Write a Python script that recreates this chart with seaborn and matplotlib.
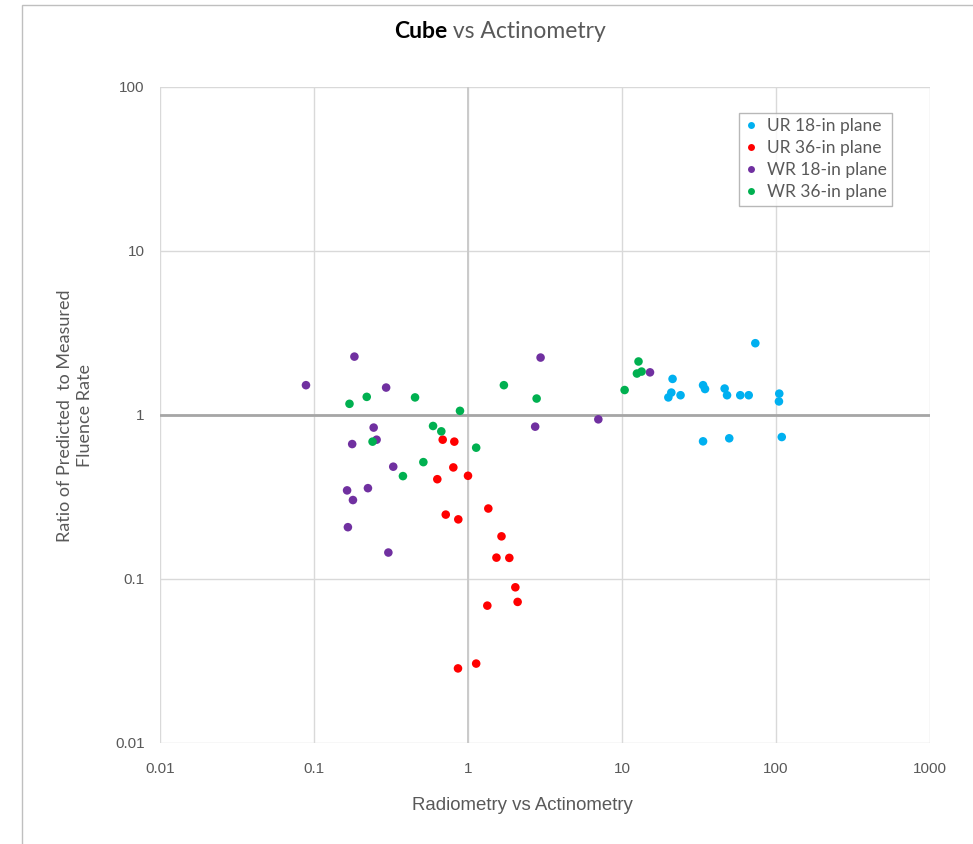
import numpy as np
import pandas as pd
import matplotlib
matplotlib.use("Agg")
import matplotlib.pyplot as plt
import seaborn as sns
from matplotlib.patches import Rectangle
from matplotlib.lines import Line2D

# ---- data ----
series_names = ["UR 18-in plane", "UR 36-in plane", "WR 18-in plane", "WR 36-in plane"]
colors = ["#00B0F0", "#FF0000", "#7030A0", "#00B050"]

ur18_x = [21.3, 20.9, 20.0, 24.0, 33.6, 34.6, 46.4, 48.1, 58.6, 66.5, 73.4, 105, 104.5, 109, 33.6, 49.7]
ur18_y = [1.66, 1.37, 1.28, 1.32, 1.52, 1.44, 1.45, 1.32, 1.32, 1.32, 2.74, 1.35, 1.21, 0.734, 0.691, 0.721]

ur36_x = [0.685, 0.815, 0.803, 1.0, 0.632, 1.355, 0.717, 0.865, 1.65, 1.53, 1.855, 2.03, 2.10, 1.335, 1.13, 0.861]
ur36_y = [0.707, 0.688, 0.479, 0.426, 0.406, 0.269, 0.247, 0.231, 0.182, 0.135, 0.1345, 0.089, 0.0725, 0.0688, 0.0305, 0.0285]

wr18_x = [0.0887, 0.183, 0.294, 0.244, 0.255, 0.177, 0.327, 0.164, 0.224, 0.179, 0.166, 0.304, 2.96, 2.73, 7.02, 15.2]
wr18_y = [1.52, 2.27, 1.47, 0.838, 0.707, 0.665, 0.484, 0.347, 0.358, 0.303, 0.207, 0.145, 2.24, 0.849, 0.941, 1.82]

wr36_x = [0.22, 0.170, 0.453, 0.887, 1.71, 2.79, 0.593, 0.671, 0.240, 1.13, 0.513, 0.378, 10.4, 12.8, 12.5, 13.4]
wr36_y = [1.29, 1.17, 1.28, 1.06, 1.52, 1.26, 0.857, 0.795, 0.688, 0.632, 0.516, 0.424, 1.42, 2.12, 1.79, 1.84]

x_ticks = [0.01, 0.1, 1, 10, 100, 1000]
x_tick_labels = ["0.01", "0.1", "1", "10", "100", "1000"]
y_ticks = [0.01, 0.1, 1, 10, 100]
y_tick_labels = ["0.01", "0.1", "1", "10", "100"]

frames = []
for name, xs, ys in zip(series_names,
                        [ur18_x, ur36_x, wr18_x, wr36_x],
                        [ur18_y, ur36_y, wr18_y, wr36_y]):
    frames.append(pd.DataFrame({"x": xs, "y": ys, "series": name}))
df = pd.concat(frames, ignore_index=True)

# ---- figure ----
sns.set_style("white")
plt.rcParams["font.family"] = ["Lato", "DejaVu Sans"]
ARIAL = ["Liberation Sans", "DejaVu Sans"]
GREY = "#595959"

fig = plt.figure(figsize=(9.73, 8.44), dpi=100)
W, H = 973, 844
ax = fig.add_axes([160 / W, 1 - 743 / H, (930 - 160) / W, (743 - 87) / H])

# chart outer border (partial, like the reference crop)
fig.patches.append(Rectangle((22 / W, -0.1), 1.2, 1 - 5 / H + 0.1,
                             transform=fig.transFigure, fill=False,
                             edgecolor="#BFBFBF", linewidth=1.0, zorder=0))

ax.set_xscale("log")
ax.set_yscale("log")
ax.set_xlim(0.01, 1000)
ax.set_ylim(0.01, 100)

for sp in ax.spines.values():
    sp.set_visible(False)

grid_c = "#D9D9D9"
for xv in x_ticks:
    ax.axvline(xv, color=grid_c, lw=1.0, zorder=0)
for yv in y_ticks:
    ax.axhline(yv, color=grid_c, lw=1.0, zorder=0)
# axis lines crossing at 1
ax.axvline(1, color="#CACACA", lw=1.4, zorder=0.5)
ax.axhline(1, color="#A6A6A6", lw=2.0, zorder=0.5)

sns.scatterplot(data=df, x="x", y="y", hue="series", hue_order=series_names,
                palette=colors, s=38, edgecolor="none", linewidth=0,
                ax=ax, legend=False, zorder=3)

ax.set_xticks(x_ticks)
ax.set_xticklabels(x_tick_labels, fontfamily=ARIAL)
ax.set_yticks(y_ticks)
ax.set_yticklabels(y_tick_labels, fontfamily=ARIAL)
ax.minorticks_off()
ax.tick_params(axis="both", length=0, labelsize=11, colors=GREY)
ax.tick_params(axis="x", pad=14)
ax.tick_params(axis="y", pad=11)

ax.set_xlabel("")
ax.set_ylabel("")
fig.text(75 / W, 1 - 415.5 / H, "Ratio of Predicted  to Measured\nFluence Rate",
         fontsize=13, color=GREY, rotation=90, ha="center", va="center",
         multialignment="center", linespacing=1.35)
fig.text(522 / W, 1 - 805 / H, "Radiometry vs Actinometry", fontsize=13.4,
         color=GREY, ha="center", va="center", fontfamily=ARIAL)

# title: bold "Cube" + regular " vs Actinometry"
ty = 1 - 32 / H
t1 = fig.text(0.405, ty, "Cube", fontsize=16.5, fontweight="bold",
              color="black", ha="left", va="center")
t2 = fig.text(0, ty, " vs Actinometry", fontsize=16.5, color=GREY,
              ha="left", va="center")
fig.canvas.draw()
r = fig.canvas.get_renderer()
bb = t1.get_window_extent(renderer=r)
bb2 = t2.get_window_extent(renderer=r)
total = bb.width + bb2.width
x0 = 500 - total / 2
t1.set_position((x0 / W, ty))
t2.set_position(((x0 + bb.width) / W, ty))

# legend
handles = [Line2D([0], [0], marker="o", linestyle="none", markersize=5,
                  markerfacecolor=c, markeredgecolor="none") for c in colors]
leg = ax.legend(handles, series_names, loc="upper right",
                bbox_to_anchor=((892 - 160) / 770, 1 - (113 - 87) / 656),
                fontsize=12.5, frameon=True, fancybox=False, handlelength=0.8,
                handletextpad=0.5, borderpad=0.3, labelspacing=0.35,
                borderaxespad=0)
leg.get_frame().set_edgecolor("#A6A6A6")
leg.get_frame().set_linewidth(1.0)
for txt in leg.get_texts():
    txt.set_color(GREY)

fig.savefig("out.png", dpi=100)
